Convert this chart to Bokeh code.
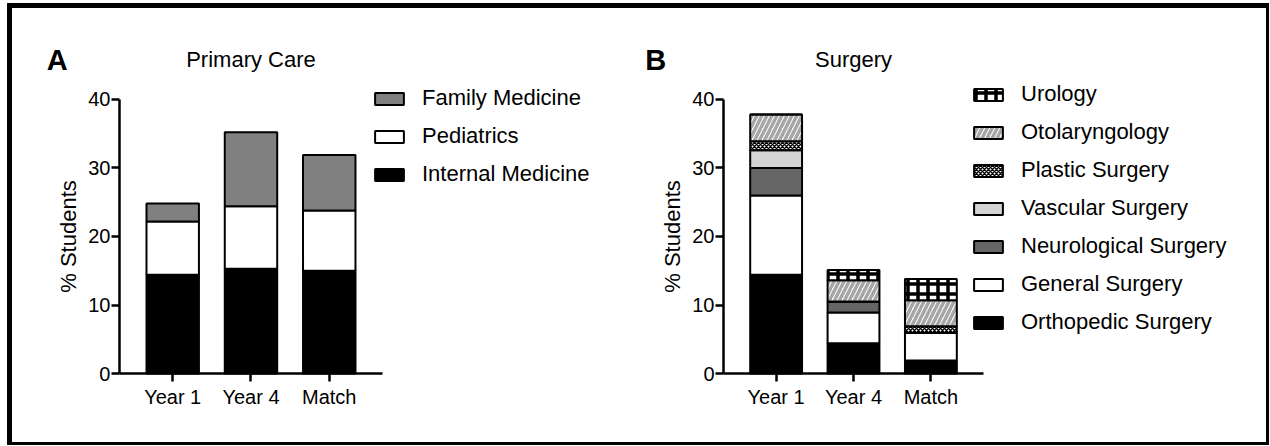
from bokeh.plotting import figure
from bokeh.layouts import row
from bokeh.models import (ColumnDataSource, Range1d, FixedTicker, Legend, LegendItem, Label)
from bokeh.transform import stack
from bokeh.embed import file_html
from bokeh.resources import INLINE

# ---------------- data ----------------
categories = ["Year 1", "Year 4", "Match"]

# Panel A: Primary Care (stack order bottom -> top)
internal_medicine = [14.4, 15.3, 15.0]
pediatrics = [7.8, 9.1, 8.8]
family_medicine = [2.6, 10.8, 8.1]

# Panel B: Surgery (stack order bottom -> top)
orthopedic_surgery = [14.4, 4.4, 1.9]
general_surgery = [11.6, 4.5, 4.0]
neurological_surgery = [4.0, 1.6, 0.0]
vascular_surgery = [2.6, 0.0, 0.0]
plastic_surgery = [1.3, 0.0, 1.0]
otolaryngology = [3.9, 3.1, 3.8]
urology = [0.0, 1.5, 3.1]

y_ticks = [0, 10, 20, 30, 40]

FONT = "Liberation Sans"
X_POS = [i + 0.5 for i in range(len(categories))]      # category slots
X_BOUNDS = (-0.18, len(categories) + 0.18)            # extent of the x axis line
Y_BOUNDS = (0, 40)


def make_fig(width, x_start, x_end):
    p = figure(x_range=Range1d(x_start, x_end), y_range=Range1d(-10.07, 53.28),
               width=width, height=434, output_backend="svg", toolbar_location=None,
               min_border=0)
    p.outline_line_color = None
    p.xgrid.grid_line_color = None
    p.ygrid.grid_line_color = None
    p.background_fill_color = "white"
    p.border_fill_color = "white"

    xa, ya = p.xaxis[0], p.yaxis[0]
    xa.fixed_location = 0
    ya.fixed_location = X_BOUNDS[0]
    xa.bounds = X_BOUNDS
    ya.bounds = Y_BOUNDS
    xa.ticker = FixedTicker(ticks=X_POS)
    xa.major_label_overrides = {x: c for x, c in zip(X_POS, categories)}
    ya.ticker = FixedTicker(ticks=y_ticks)
    for ax in (xa, ya):
        ax.axis_line_width = 2.5
        ax.axis_line_color = "black"
        ax.major_tick_line_width = 2.5
        ax.major_tick_line_color = "black"
        ax.major_tick_out = 8
        ax.major_tick_in = 0
        ax.minor_tick_line_color = None
        ax.major_label_text_font = FONT
        ax.major_label_text_font_size = "20px"
        ax.major_label_text_color = "black"
    ya.major_label_standoff = 1
    xa.major_label_standoff = 4
    ya.axis_label = "% Students"
    ya.axis_label_text_font = FONT
    ya.axis_label_text_font_size = "22px"
    ya.axis_label_text_font_style = "normal"
    ya.axis_label_text_color = "black"
    ya.axis_label_standoff = 4
    return p


def add_stack(p, source, names, styles):
    rends = []
    for i, (name, st) in enumerate(zip(names, styles)):
        r = p.vbar(x="x", width=0.67,
                   bottom=stack(*names[:i]), top=stack(*names[:i + 1]),
                   source=source, line_color="black", line_width=2, **st)
        rends.append(r)
    return rends


def add_legend(p, labels, rends, loc):
    items = [LegendItem(label=l, renderers=[r]) for l, r in zip(labels, rends)]
    lg = Legend(items=items, location=loc, orientation="vertical",
                glyph_width=36, glyph_height=15, label_standoff=15,
                label_height=25, spacing=12, padding=0, margin=0,
                border_line_color=None, background_fill_alpha=0,
                label_text_font=FONT, label_text_font_size="22px",
                label_text_color="black")
    p.add_layout(lg, "center")


def add_titles(p, letter, letter_x, title):
    p.add_layout(Label(x=1.5, y=45.77, text=title, text_align="center", text_baseline="middle",
                       text_font=FONT, text_font_size="22px", text_color="black"))
    p.add_layout(Label(x=letter_x, y=45.77, text=letter, text_align="left", text_baseline="middle",
                       text_font=FONT, text_font_size="29px", text_font_style="bold",
                       text_color="black"))


# ---------------- Panel A ----------------
src_a = ColumnDataSource(dict(x=X_POS, im=internal_medicine, ped=pediatrics, fm=family_medicine))
pa = make_fig(600, -1.547, 6.119)
ra = add_stack(pa, src_a, ["im", "ped", "fm"],
               [dict(fill_color="black"), dict(fill_color="white"), dict(fill_color="#808080")])
add_legend(pa, ["Family Medicine", "Pediatrics", "Internal Medicine"], ra[::-1], (359, 255))
add_titles(pa, "A", -1.11, "Primary Care")

# ---------------- Panel B ----------------
src_b = ColumnDataSource(dict(x=X_POS, ortho=orthopedic_surgery, gen=general_surgery,
                              neuro=neurological_surgery, vasc=vascular_surgery,
                              plast=plastic_surgery, oto=otolaryngology, uro=urology))
pb = make_fig(654, -1.6145, 6.837)
rb = add_stack(pb, src_b, ["ortho", "gen", "neuro", "vasc", "plast", "oto", "uro"],
               [dict(fill_color="black"),
                dict(fill_color="white"),
                dict(fill_color="#666666"),
                dict(fill_color="#d4d4d4"),
                dict(fill_color="white", hatch_pattern="x", hatch_color="black",
                     hatch_weight=1.5, hatch_scale=4),
                dict(fill_color="white", hatch_pattern="/", hatch_color="#a6a6a6",
                     hatch_weight=3.5, hatch_scale=10),
                dict(fill_color="white", hatch_pattern="+", hatch_color="black",
                     hatch_weight=3.5, hatch_scale=10)])
add_legend(pb, ["Urology", "Otolaryngology", "Plastic Surgery", "Vascular Surgery",
                "Neurological Surgery", "General Surgery", "Orthopedic Surgery"],
           rb[::-1], (358, 107))
add_titles(pb, "B", -1.19, "Surgery")

layout = row(pa, pb, styles={"margin-left": "7px", "margin-top": "3px",
                             "border-style": "solid", "border-color": "black",
                             "border-width": "5px 3px 3px 5px"})

open("out.html", "w").write(file_html(layout, INLINE))
